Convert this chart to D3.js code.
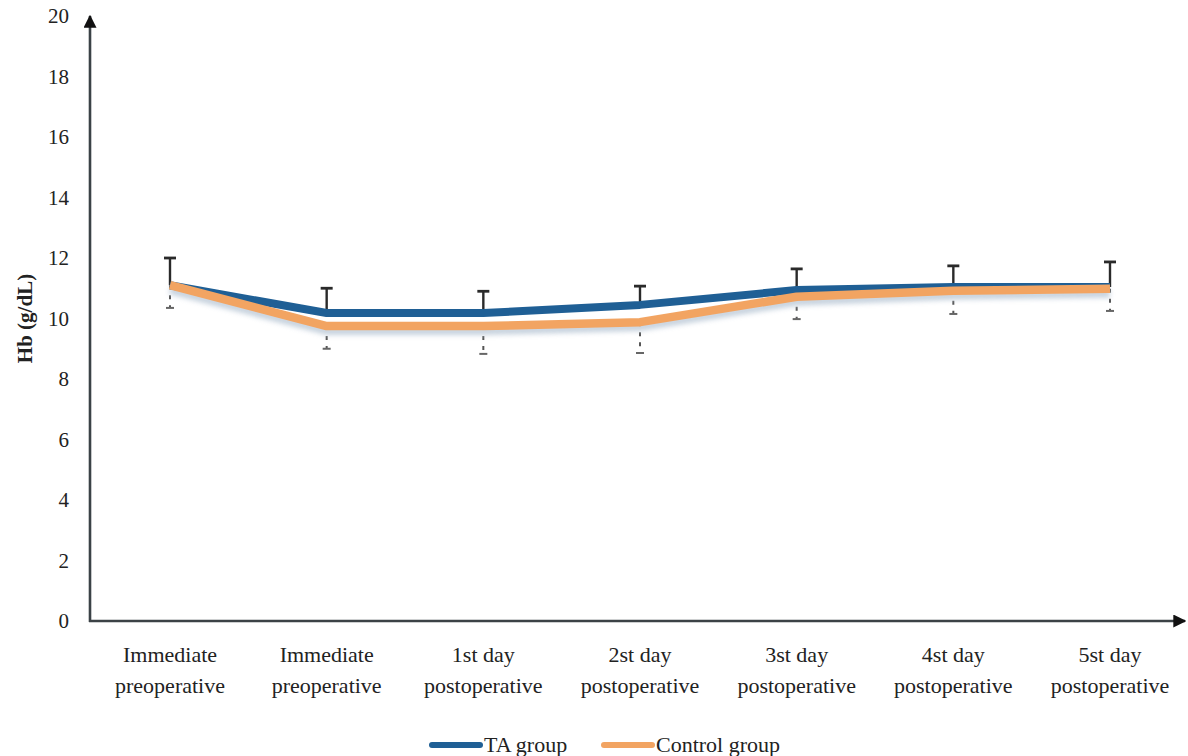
<!DOCTYPE html>
<html>
<head>
<meta charset="utf-8">
<script src="https://cdn.jsdelivr.net/npm/d3@7"></script>
<style>
  html, body { margin: 0; padding: 0; background: #fff; }
  svg { display: block; }
  text { font-family: "Liberation Serif", "DejaVu Serif", serif; fill: #222; }
</style>
</head>
<body>
<svg id="chart" width="1188" height="756"></svg>
<script>
// Time points (two-line labels)
const categories = [
  ["Immediate", "preoperative"],
  ["Immediate", "preoperative"],
  ["1st day", "postoperative"],
  ["2st day", "postoperative"],
  ["3st day", "postoperative"],
  ["4st day", "postoperative"],
  ["5st day", "postoperative"]
];
// Mean haemoglobin (g/dL)
const taGroup      = [11.1, 10.18, 10.18, 10.45, 10.94, 11.04, 11.04];
const controlGroup = [11.1, 9.75, 9.75, 9.88, 10.72, 10.92, 10.98];
// Error bar ends
const upperBound   = [12.0, 11.0, 10.9, 11.07, 11.64, 11.74, 11.87];
const lowerBound   = [10.35, 9.0, 8.83, 8.86, 9.98, 10.15, 10.25];
const yTicks = [0, 2, 4, 6, 8, 10, 12, 14, 16, 18, 20];

const svg = d3.select("#chart");
const plotLeft = 90, plotRight = 1185, plotTop = 16, plotBottom = 621;

const x = d3.scalePoint()
  .domain(d3.range(categories.length))
  .range([170, 1110]);
const y = d3.scaleLinear().domain([0, 20]).range([plotBottom, plotTop]);

const axisColor = "#3b4246";

// Arrow marker for the axes
const defs = svg.append("defs");
defs.append("marker")
  .attr("id", "arrow")
  .attr("viewBox", "0 0 10 10")
  .attr("refX", 9).attr("refY", 5)
  .attr("markerWidth", 5).attr("markerHeight", 5)
  .attr("markerUnits", "strokeWidth")
  .attr("orient", "auto")
  .append("path").attr("d", "M0,0 L10,5 L0,10 Z").attr("fill", "#111");
defs.append("filter").attr("id", "soft")
  .attr("x", "-5%").attr("y", "-50%").attr("width", "110%").attr("height", "200%")
  .append("feGaussianBlur").attr("stdDeviation", 2.5);

// Y tick labels
const yAxis = d3.axisLeft(y).tickValues(yTicks).tickSize(0).tickPadding(21);
const gy = svg.append("g").attr("transform", `translate(${plotLeft},0)`).call(yAxis);
gy.select(".domain").remove();
gy.selectAll("text")
  .attr("font-family", "Liberation Serif, DejaVu Serif, serif")
  .attr("font-size", 21).attr("fill", "#222");

// Axes lines with arrows
svg.append("line")
  .attr("x1", plotLeft).attr("y1", plotBottom + 1).attr("x2", plotLeft).attr("y2", plotTop)
  .attr("stroke", axisColor).attr("stroke-width", 2.6)
  .attr("marker-end", "url(#arrow)");
svg.append("line")
  .attr("x1", plotLeft - 1).attr("y1", plotBottom).attr("x2", plotRight).attr("y2", plotBottom)
  .attr("stroke", axisColor).attr("stroke-width", 2.6)
  .attr("marker-end", "url(#arrow)");

// Y axis title
svg.append("text")
  .attr("transform", `translate(32,${(plotTop + plotBottom) / 2}) rotate(-90)`)
  .attr("text-anchor", "middle")
  .attr("font-size", 21).attr("font-weight", "bold")
  .text("Hb (g/dL)");

// X category labels
const gx = svg.append("g");
categories.forEach((lines, i) => {
  const t = gx.append("text")
    .attr("x", x(i)).attr("y", 662)
    .attr("text-anchor", "middle").attr("font-size", 22);
  lines.forEach((ln, j) => {
    t.append("tspan").attr("x", x(i)).attr("dy", j === 0 ? 0 : 31).text(ln);
  });
});

const line = d3.line().x((d, i) => x(i)).y(d => y(d));

// Upper error bars (solid)
const eb = svg.append("g").attr("stroke", "#2a2a2a");
upperBound.forEach((u, i) => {
  eb.append("line").attr("x1", x(i)).attr("x2", x(i))
    .attr("y1", y(taGroup[i])).attr("y2", y(u)).attr("stroke-width", 2.4);
  eb.append("line").attr("x1", x(i) - 6).attr("x2", x(i) + 6)
    .attr("y1", y(u)).attr("y2", y(u)).attr("stroke-width", 2.8);
});
// Lower error bars (dashed)
lowerBound.forEach((l, i) => {
  eb.append("line").attr("x1", x(i)).attr("x2", x(i))
    .attr("y1", y(controlGroup[i])).attr("y2", y(l))
    .attr("stroke", "#555").attr("stroke-width", 2)
    .attr("stroke-dasharray", "4,6");
  eb.append("line").attr("x1", x(i) - 4).attr("x2", x(i) + 4)
    .attr("y1", y(l)).attr("y2", y(l))
    .attr("stroke", "#666").attr("stroke-width", 2);
});

// Soft shadow beneath the series lines
svg.append("path").datum(controlGroup)
  .attr("d", line).attr("fill", "none")
  .attr("stroke", "#b9c7d6").attr("stroke-width", 8)
  .attr("transform", "translate(0,5)")
  .attr("filter", "url(#soft)").attr("opacity", 0.8);

// Series lines
svg.append("path").datum(taGroup)
  .attr("d", line).attr("fill", "none")
  .attr("stroke", "#1f5f95").attr("stroke-width", 8)
  .attr("stroke-linejoin", "round");
svg.append("path").datum(controlGroup)
  .attr("d", line).attr("fill", "none")
  .attr("stroke", "#f2a462").attr("stroke-width", 8.5)
  .attr("stroke-linejoin", "round");

// Legend
const legend = [
  { label: "TA group", color: "#1f5f95", x: 432 },
  { label: "Control group", color: "#f2a462", x: 604 }
];
legend.forEach(d => {
  svg.append("line")
    .attr("x1", d.x).attr("x2", d.x + 48).attr("y1", 745).attr("y2", 745)
    .attr("stroke", d.color).attr("stroke-width", 6).attr("stroke-linecap", "round");
  svg.append("text").attr("x", d.x + 52).attr("y", 752)
    .attr("font-size", 22).text(d.label);
});
</script>
</body>
</html>
